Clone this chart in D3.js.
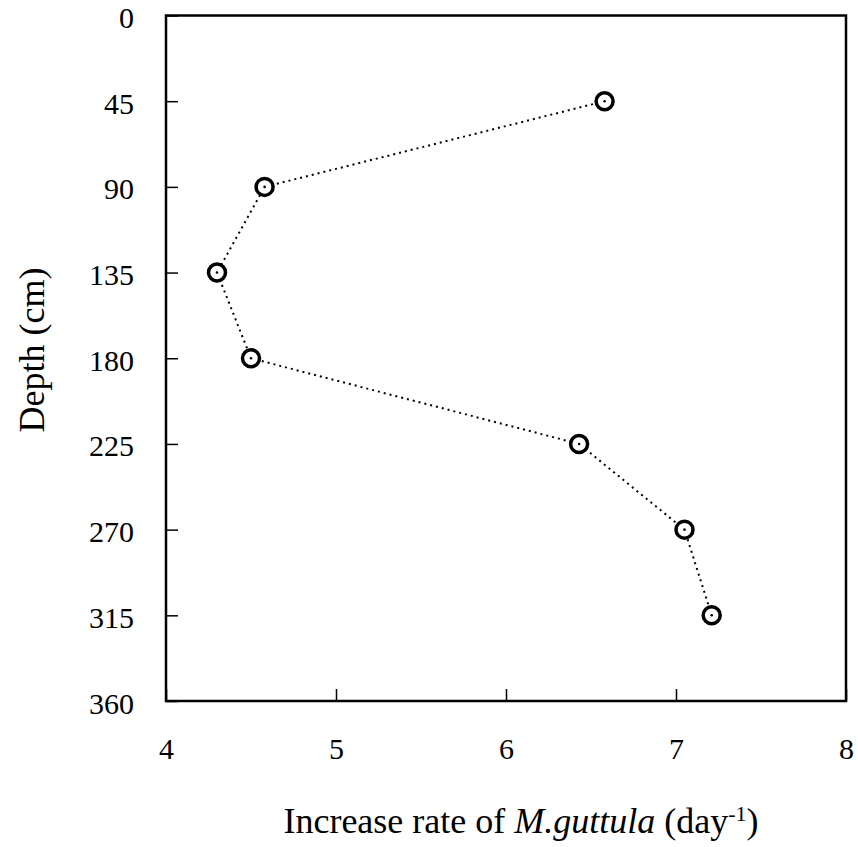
<!DOCTYPE html>
<html lang="en">
  <head>
    <meta charset="utf-8">
    <script src="https://cdn.jsdelivr.net/npm/d3@7"></script>
    <style>
      body{ margin:0; background:#fff; }
      svg{ display:block; }
    </style>
  </head>
  <body>
    <svg></svg>
  </body>
  <script>
    // data
    var depths = [45, 90, 135, 180, 225, 270, 315];
    var rates = [6.58, 4.58, 4.30, 4.50, 6.43, 7.05, 7.21];
    var xTicks = [4, 5, 6, 7, 8];
    var yTicks = [0, 45, 90, 135, 180, 225, 270, 315, 360];

    var serif = "'Liberation Serif', 'Times New Roman', 'DejaVu Serif', serif";

    var svgwidth = 858, svgheight = 847;
    var margins = {top:15.5, left:166, right:12, bottom:146};
    var width = svgwidth - margins.left - margins.right;
    var height = svgheight - margins.top - margins.bottom;

    var svg = d3.select('svg')
                .attr('width', svgwidth)
                .attr('height', svgheight);

    var xScale = d3.scaleLinear().domain([4, 8]).range([0, width]);
    var yScale = d3.scaleLinear().domain([0, 360]).range([0, height]);

    var plot = svg.append('g')
                  .attr('transform', 'translate(' + margins.left + ',' + margins.top + ')');

    // frame
    plot.append('rect')
        .attr('x', 0).attr('y', 0)
        .attr('width', width).attr('height', height)
        .attr('fill', 'none')
        .attr('stroke', '#000')
        .attr('stroke-width', 2.5);

    // x axis: inward ticks, labels well below
    var xAxis = d3.axisBottom(xScale).tickValues(xTicks).tickFormat(d3.format('d'))
                  .tickSizeInner(-12).tickSizeOuter(0).tickPadding(37);
    var gx = plot.append('g')
        .attr('transform', 'translate(0,' + height + ')')
        .call(xAxis);
    gx.select('.domain').remove();
    gx.selectAll('line').attr('stroke-width', 1.5);
    gx.selectAll('text').style('font-family', serif).style('font-size', '30px');

    var yAxis = d3.axisLeft(yScale).tickValues(yTicks).tickFormat(d3.format('d'))
                  .tickSizeInner(-12).tickSizeOuter(0).tickPadding(32);
    var gy = plot.append('g').call(yAxis);
    gy.select('.domain').remove();
    gy.selectAll('line').attr('stroke-width', 1.5);
    gy.selectAll('text').attr('dy', '0.4em').style('font-family', serif).style('font-size', '30px');

    // dotted line
    var line = d3.line()
                 .x(function(d, i){ return xScale(rates[i]); })
                 .y(function(d){ return yScale(d); });

    plot.append('path')
        .datum(depths)
        .attr('d', line)
        .attr('fill', 'none')
        .attr('stroke', '#000')
        .attr('stroke-width', 2)
        .attr('stroke-dasharray', '2,4');

    // markers
    var pts = plot.selectAll('.pt')
                  .data(depths)
                  .enter()
                  .append('g')
                  .attr('transform', function(d, i){
                    return 'translate(' + xScale(rates[i]) + ',' + yScale(d) + ')';
                  });
    pts.append('circle')
       .attr('r', 8.5)
       .attr('fill', '#fff')
       .attr('stroke', '#000')
       .attr('stroke-width', 3.5);
    pts.append('circle')
       .attr('r', 1.3)
       .attr('fill', '#000');

    // axis titles
    var xt = svg.append('text')
       .attr('x', 521)
       .attr('y', 833)
       .attr('text-anchor', 'middle')
       .style('font-family', serif)
       .style('font-size', '36px');
    xt.append('tspan').text('Increase rate of ');
    xt.append('tspan').style('font-style', 'italic').text('M.guttula');
    xt.append('tspan').text(' (day');
    xt.append('tspan').attr('dy', -12).style('font-size', '22px').text('-1');
    xt.append('tspan').attr('dy', 12).text(')');

    svg.append('text')
       .attr('transform', 'translate(44,350) rotate(-90)')
       .attr('text-anchor', 'middle')
       .style('font-family', serif)
       .style('font-size', '36px')
       .text('Depth (cm)');
  </script>
</html>
